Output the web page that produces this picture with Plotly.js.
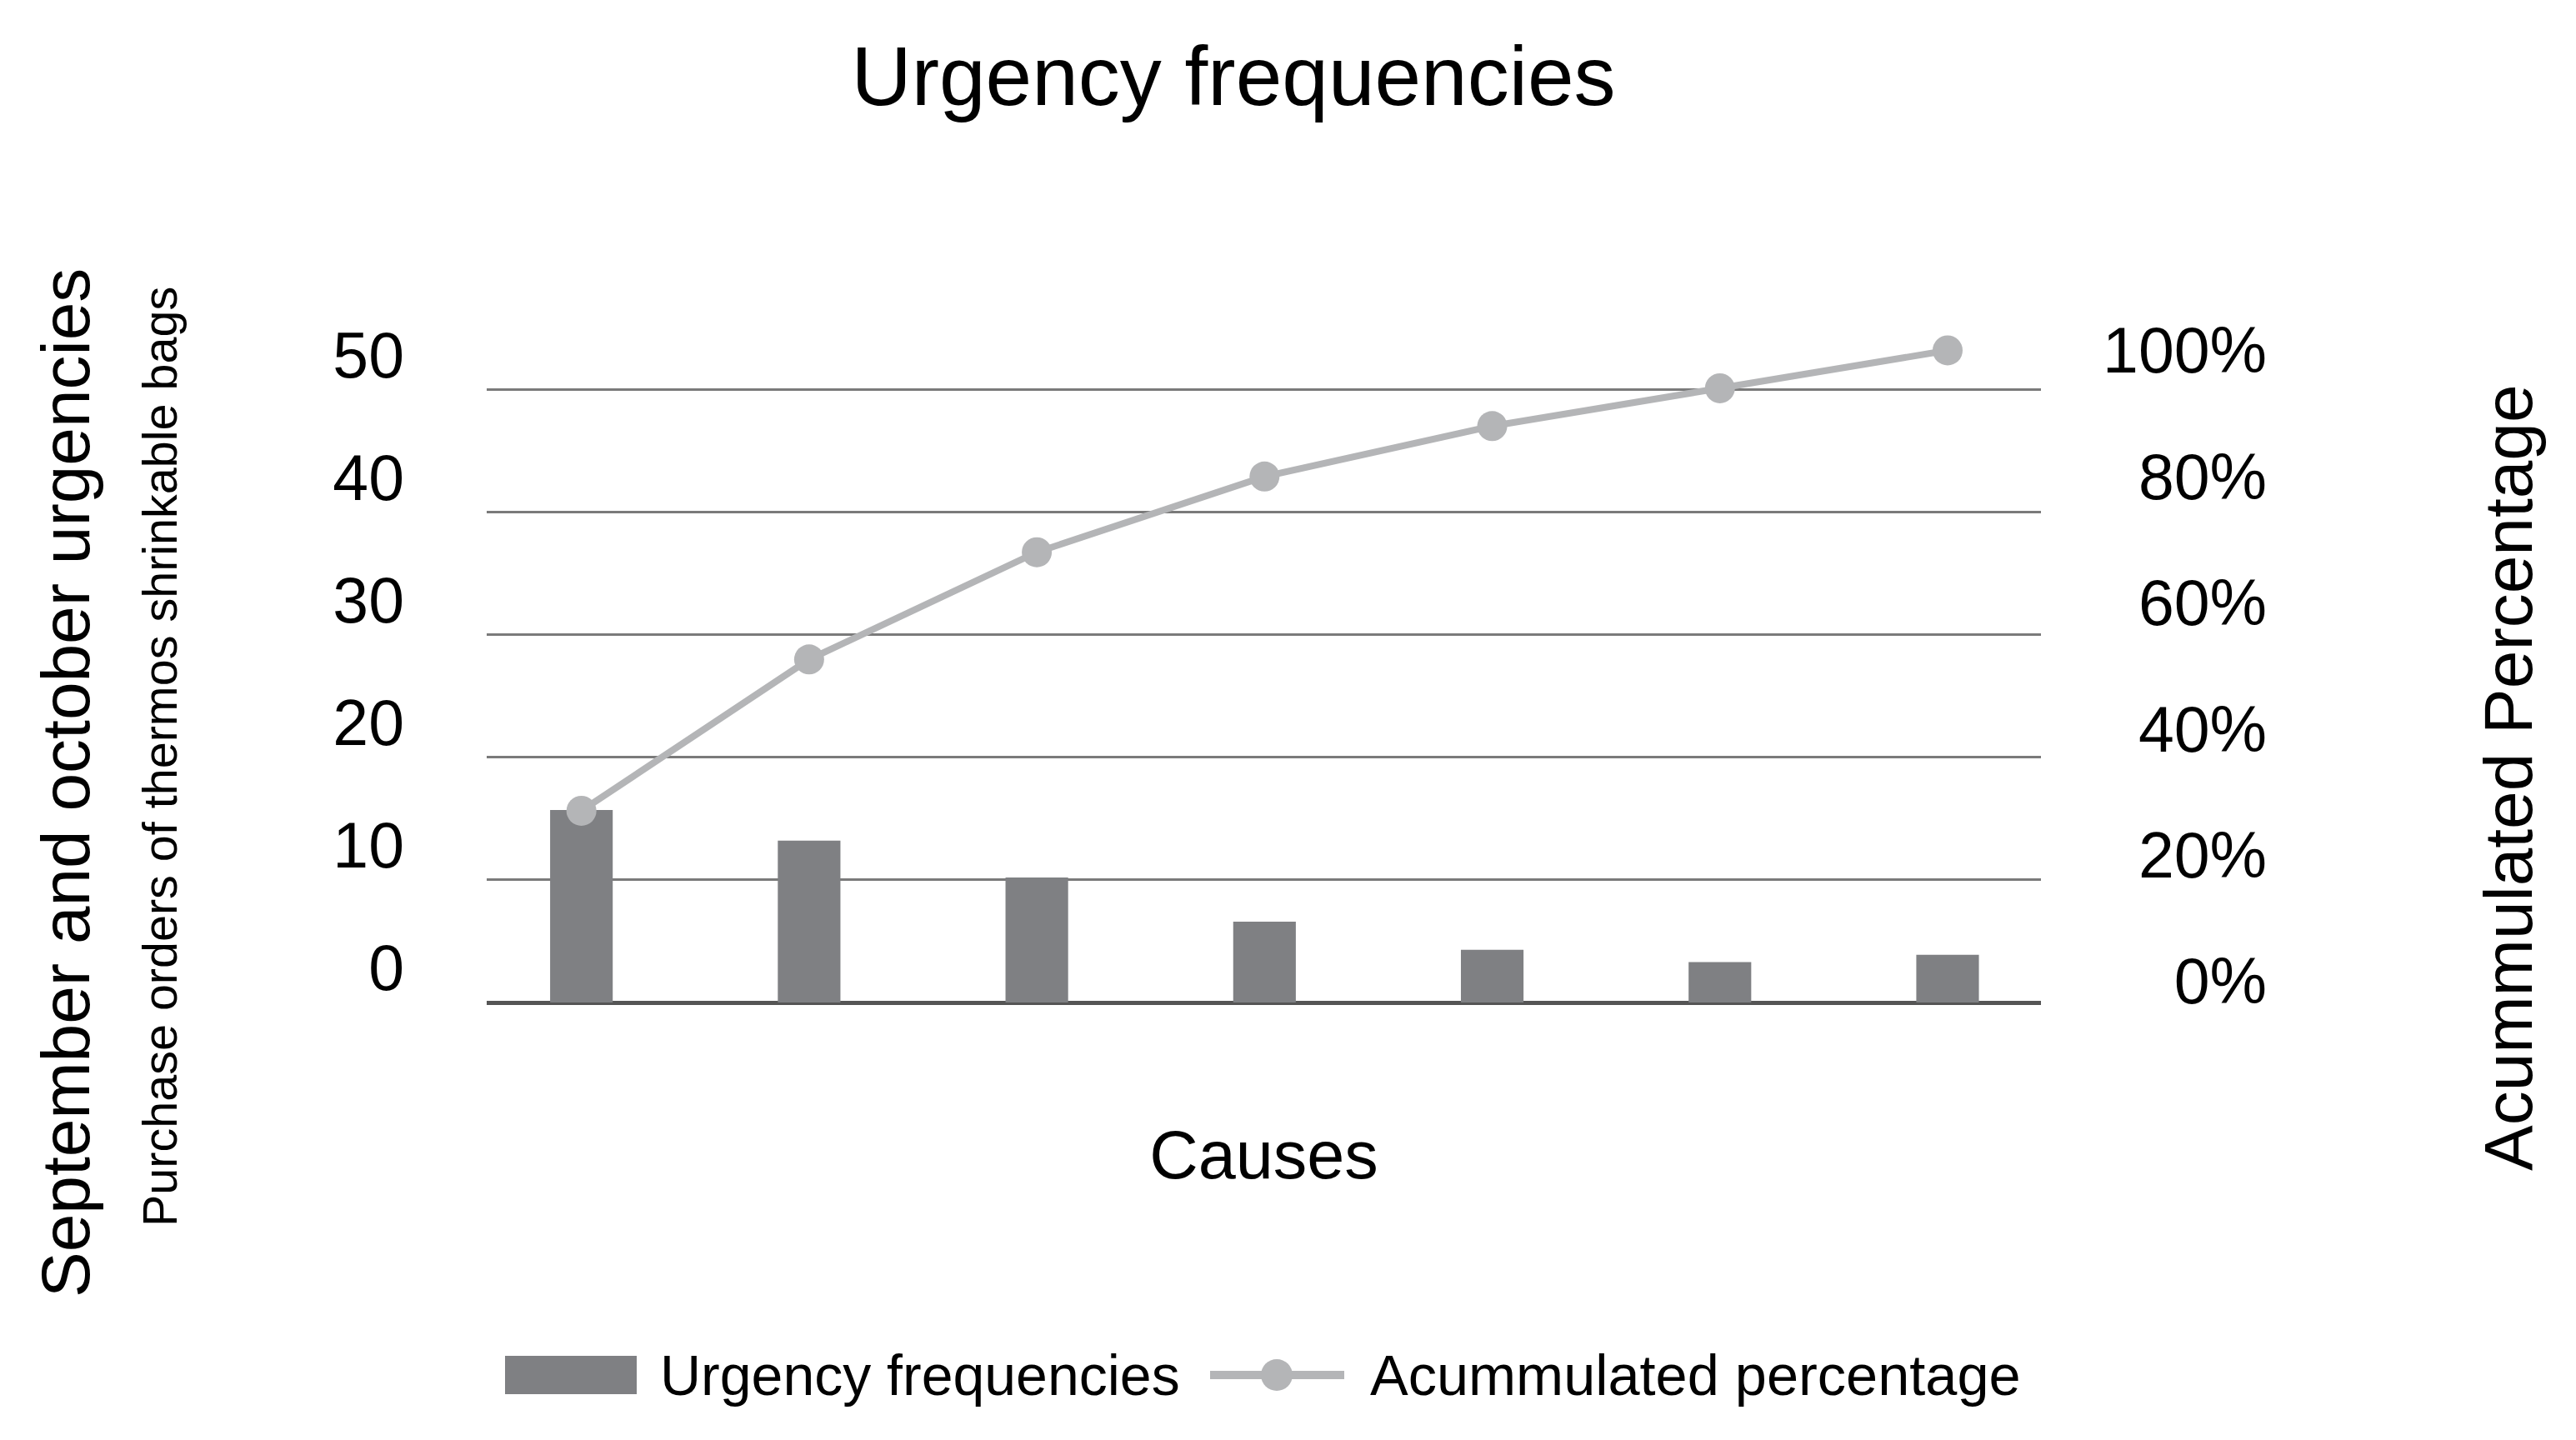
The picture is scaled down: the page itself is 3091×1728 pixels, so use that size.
<!DOCTYPE html>
<html>
<head>
<meta charset="utf-8">
<script src="https://cdn.plot.ly/plotly-3.0.1.min.js"></script>
<style>
  html, body { margin: 0; padding: 0; background: #ffffff; }
  #chart { width: 3091px; height: 1728px; }
</style>
</head>
<body>
<div id="chart"></div>
<script>
// ---- data ----
const causes = ['Cause 1', 'Cause 2', 'Cause 3', 'Cause 4', 'Cause 5', 'Cause 6', 'Cause 7'];
const urgencyFrequencies = [15.7, 13.2, 10.2, 6.6, 4.3, 3.3, 3.9];
const accumulatedPercentage = [0.27, 0.51, 0.68, 0.80, 0.88, 0.94, 1.00];
const leftTicks = [0, 10, 20, 30, 40, 50];
const rightTicks = [0, 0.2, 0.4, 0.6, 0.8, 1.0];

const chartTitle = 'Urgency frequencies';
const leftTitle = 'September and october urgencies';
const leftSubTitle = 'Purchase orders of thermos shrinkable bags';
const rightTitle = 'Acummulated Percentage';
const xTitle = 'Causes';
const seriesNames = ['Urgency frequencies', 'Acummulated percentage'];

// ---- style ----
const FONT = '"Liberation Sans", Arial, Helvetica, sans-serif';
const BAR_COLOR = '#7f8083';
const LINE_COLOR = '#b4b5b7';

const W = 3091, H = 1728;
const L = 584, R = 331, T = 394, B = 525;
const PW = W - L - R, PH = H - T - B;
const px = x => (x - L) / PW;          // page x -> paper x
const py = y => (H - B - y) / PH;      // page y -> paper y

const traces = [
  {
    type: 'bar',
    name: seriesNames[0],
    x: causes,
    y: urgencyFrequencies,
    marker: { color: BAR_COLOR },
    yaxis: 'y',
    hoverinfo: 'x+y'
  },
  {
    type: 'scatter',
    mode: 'lines+markers',
    name: seriesNames[1],
    x: causes,
    y: accumulatedPercentage,
    yaxis: 'y2',
    line: { color: LINE_COLOR, width: 8 },
    marker: { color: LINE_COLOR, size: 36 },
    cliponaxis: false
  }
];

const layout = {
  width: W, height: H,
  paper_bgcolor: '#ffffff',
  plot_bgcolor: '#ffffff',
  font: { family: FONT, color: '#000000' },
  showlegend: false,
  margin: { l: L, r: R, t: T, b: B, pad: 0 },
  bargap: 0.725,
  title: {
    text: chartTitle,
    font: { family: FONT, size: 100, color: '#000000' },
    xref: 'container', x: 1480 / W, xanchor: 'center',
    yref: 'container', y: 1 - 91 / H, yanchor: 'middle'
  },
  xaxis: {
    type: 'category',
    domain: [0, px(2449)],
    range: [-0.416, 6.41],
    showticklabels: false,
    ticks: '',
    showgrid: false,
    zeroline: false,
    showline: false,
    title: { text: xTitle, font: { family: FONT, size: 81, color: '#000000' }, standoff: 154 }
  },
  yaxis: {
    range: [0, 55],
    tickvals: leftTicks,
    ticks: '',
    showline: false,
    showgrid: true,
    gridcolor: '#7a7a7a',
    gridwidth: 3,
    zeroline: true,
    zerolinecolor: '#555555',
    zerolinewidth: 5,
    ticklabelshift: -42,
    ticklabelstandoff: 98,
    tickfont: { family: FONT, size: 77, color: '#000000' }
  },
  yaxis2: {
    overlaying: 'y',
    anchor: 'free',
    side: 'left',
    position: px(2720),
    range: [-0.034, 1.035],
    tickvals: rightTicks,
    tickformat: '.0%',
    ticks: '',
    showgrid: false,
    zeroline: false,
    showline: false,
    tickfont: { family: FONT, size: 77, color: '#000000' }
  },
  annotations: [
    { text: leftTitle, textangle: -90, showarrow: false, xref: 'paper', yref: 'paper',
      x: px(78), y: py(940), xanchor: 'center', yanchor: 'middle',
      font: { family: FONT, size: 82, color: '#000000' } },
    { text: leftSubTitle, textangle: -90, showarrow: false, xref: 'paper', yref: 'paper',
      x: px(192), y: py(908), xanchor: 'center', yanchor: 'middle',
      font: { family: FONT, size: 57.5, color: '#000000' } },
    { text: rightTitle, textangle: -90, showarrow: false, xref: 'paper', yref: 'paper',
      x: px(3009), y: py(933), xanchor: 'center', yanchor: 'middle',
      font: { family: FONT, size: 82, color: '#000000' } },
    // legend labels
    { text: seriesNames[0], showarrow: false, xref: 'paper', yref: 'paper',
      x: px(790), y: py(1650), xanchor: 'left', yanchor: 'middle',
      font: { family: FONT, size: 68, color: '#000000' } },
    { text: seriesNames[1], showarrow: false, xref: 'paper', yref: 'paper',
      x: px(1642), y: py(1650), xanchor: 'left', yanchor: 'middle',
      font: { family: FONT, size: 68.5, color: '#000000' } }
  ],
  shapes: [
    // legend symbols
    { type: 'rect', xref: 'paper', yref: 'paper',
      x0: px(606), x1: px(764), y0: py(1673), y1: py(1627),
      fillcolor: BAR_COLOR, line: { width: 0 } },
    { type: 'line', xref: 'paper', yref: 'paper',
      x0: px(1452), x1: px(1613), y0: py(1650), y1: py(1650),
      line: { color: LINE_COLOR, width: 10 } },
    { type: 'circle', xref: 'paper', yref: 'paper',
      xsizemode: 'pixel', ysizemode: 'pixel',
      xanchor: px(1532), yanchor: py(1650),
      x0: -19, x1: 19, y0: -19, y1: 19,
      fillcolor: LINE_COLOR, line: { width: 0 } }
  ]
};

Plotly.newPlot('chart', traces, layout, { staticPlot: true, displayModeBar: false });
</script>
</body>
</html>
